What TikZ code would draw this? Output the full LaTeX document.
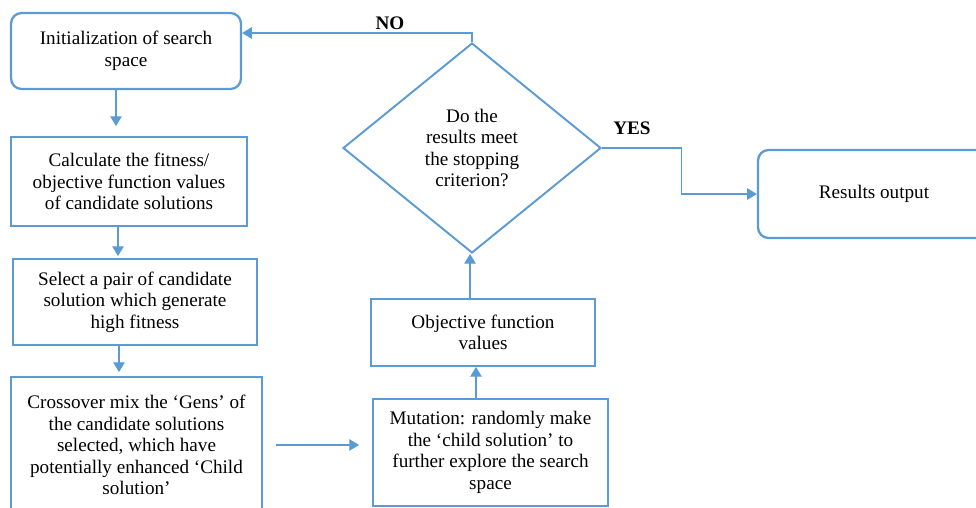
\documentclass[tikz,border=0pt]{standalone}
\usepackage{fontspec}
\setmainfont{Liberation Serif}
\usetikzlibrary{shapes.geometric,arrows.meta}
\definecolor{flowblue}{HTML}{5B9BD5}
\begin{document}
\begin{tikzpicture}[x=0.02cm, y=-0.02cm, >={Triangle[length=5.5pt,width=6.5pt]},
    font=\fontsize{10.9}{12.2}\selectfont,
    box/.style={draw=flowblue, line width=1.1pt, align=center, inner sep=0pt},
    roundbox/.style={box, rounded corners=6pt, line width=1.3pt},
    link/.style={->, draw=flowblue, line width=0.6pt},
    lbl/.style={font=\fontsize{10.9}{12.2}\selectfont\bfseries}]
    \useasboundingbox (0,0) rectangle (976,507);
    % left column
    \node[roundbox, minimum width=4.6cm, minimum height=1.52cm]
        (init) at (126,51) {Initialization of search\\space};
    \node[box, minimum width=4.72cm, minimum height=1.78cm]
        (calc) at (129,181.5) {Calculate the fitness/\\objective function values\\of candidate solutions};
    \node[box, minimum width=4.88cm, minimum height=1.72cm]
        (select) at (135,302) {Select a pair of candidate\\solution which generate\\high fitness};
    \node[box, minimum width=5.02cm, minimum height=2.72cm]
        (crossover) at (136.5,445) {Crossover mix the `Gens' of\\the candidate solutions\\selected, which have\\potentially enhanced `Child\\solution'};
    % middle column
    \node[box, minimum width=4.7cm, minimum height=2.14cm]
        (mutation) at (490.5,452.5) {Mutation: randomly make\\the `child solution' to\\further explore the search\\space};
    \node[box, minimum width=4.48cm, minimum height=1.34cm]
        (objective) at (483,332.5) {Objective function\\values};
    \node[diamond, draw=flowblue, line width=1.1pt, align=center, inner sep=0pt,
        aspect=1.23, minimum width=5.16cm, minimum height=4.2cm]
        (decision) at (472,148) {Do the\\results meet\\the stopping\\criterion?};
    % right
    \node[roundbox, minimum width=4.64cm, minimum height=1.76cm]
        (results) at (874,194) {Results output};
    \node[lbl] (nolabel) at (390,23) {NO};
    \node[lbl] (yeslabel) at (632,128) {YES};
    % connectors
    \coordinate (a1) at ([xshift=-0.2cm]init.south);
    \coordinate (a2) at ([xshift=-0.22cm]calc.south);
    \coordinate (a3) at ([xshift=-0.32cm]select.south);
    \coordinate (a4) at ([xshift=-0.29cm]mutation.north);
    \coordinate (a5) at ([xshift=-0.26cm]objective.north);
    \coordinate (nocorner) at (472,33);
    \draw[link, shorten >=0.2cm] (a1) -- (a1 |- calc.north);
    \draw[link, shorten >=0.04cm] (a2) -- (a2 |- select.north);
    \draw[link, shorten >=0.08cm] (a3) -- (a3 |- crossover.north);
    \draw[link, shorten <=0.26cm, shorten >=0.26cm]
        (crossover.east) -- (crossover.east -| mutation.west);
    \draw[link] (a4) -- (a4 |- objective.south);
    \draw[link] (a5) -- (a5 |- decision.south);
    \draw[link] (decision.north) -- (nocorner) -- (nocorner -| init.east);
    \draw[link] (decision.east) -- ++(80,0) |- (results.west);
\end{tikzpicture}
\end{document}
